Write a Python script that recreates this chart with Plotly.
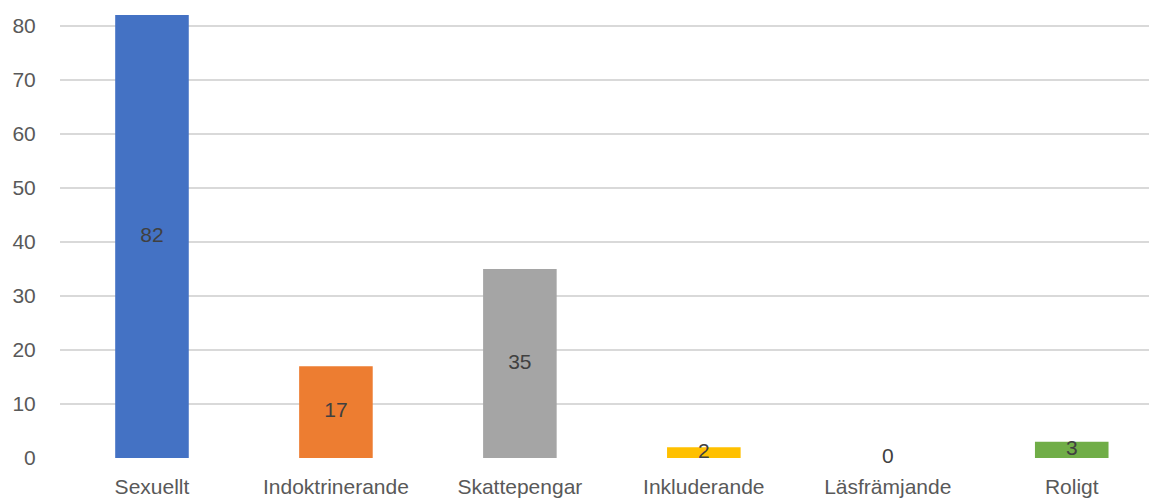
import plotly.graph_objects as go

categories = ["Sexuellt", "Indoktrinerande", "Skattepengar", "Inkluderande", "Läsfrämjande", "Roligt"]
values = [82, 17, 35, 2, 0, 3]
colors = ["#4472C4", "#ED7D31", "#A5A5A5", "#FFC000", "#5B9BD5", "#70AD47"]
y_ticks = [0, 10, 20, 30, 40, 50, 60, 70, 80]

fig = go.Figure()
fig.add_trace(go.Bar(
    x=categories, y=values, marker=dict(color=colors, line=dict(width=0)),
    width=0.4, hoverinfo="skip", showlegend=False,
))
fig.add_trace(go.Scatter(
    x=categories, y=[v / 2 for v in values], mode="text",
    text=[str(v) for v in values],
    textfont=dict(family="Liberation Sans, Arial, sans-serif", size=21, color="#404040"),
    textposition="middle center", showlegend=False, hoverinfo="skip", cliponaxis=False,
))

fig.update_layout(
    width=1149, height=501,
    margin=dict(l=60, r=0, t=0, b=43),
    paper_bgcolor="white", plot_bgcolor="white",
    font=dict(family="Liberation Sans, Arial, sans-serif", color="#595959"),
    xaxis=dict(
        range=[-0.5, 5.42], showgrid=False, zeroline=False, showline=False,
        tickfont=dict(size=21, color="#595959"),
        ticks="outside", ticklen=10, tickcolor="rgba(0,0,0,0)",
    ),
    yaxis=dict(
        range=[0, 84.8], tickvals=y_ticks, showgrid=True, gridcolor="#D9D9D9",
        gridwidth=1.8, zeroline=False, showline=False,
        tickfont=dict(size=21, color="#595959"),
        ticks="outside", ticklen=19, tickcolor="rgba(0,0,0,0)",
    ),
)

fig.write_html(
    "out.html",
    config={"displayModeBar": False},
    post_script="document.body.style.margin='0';document.body.style.overflow='hidden';",
)
